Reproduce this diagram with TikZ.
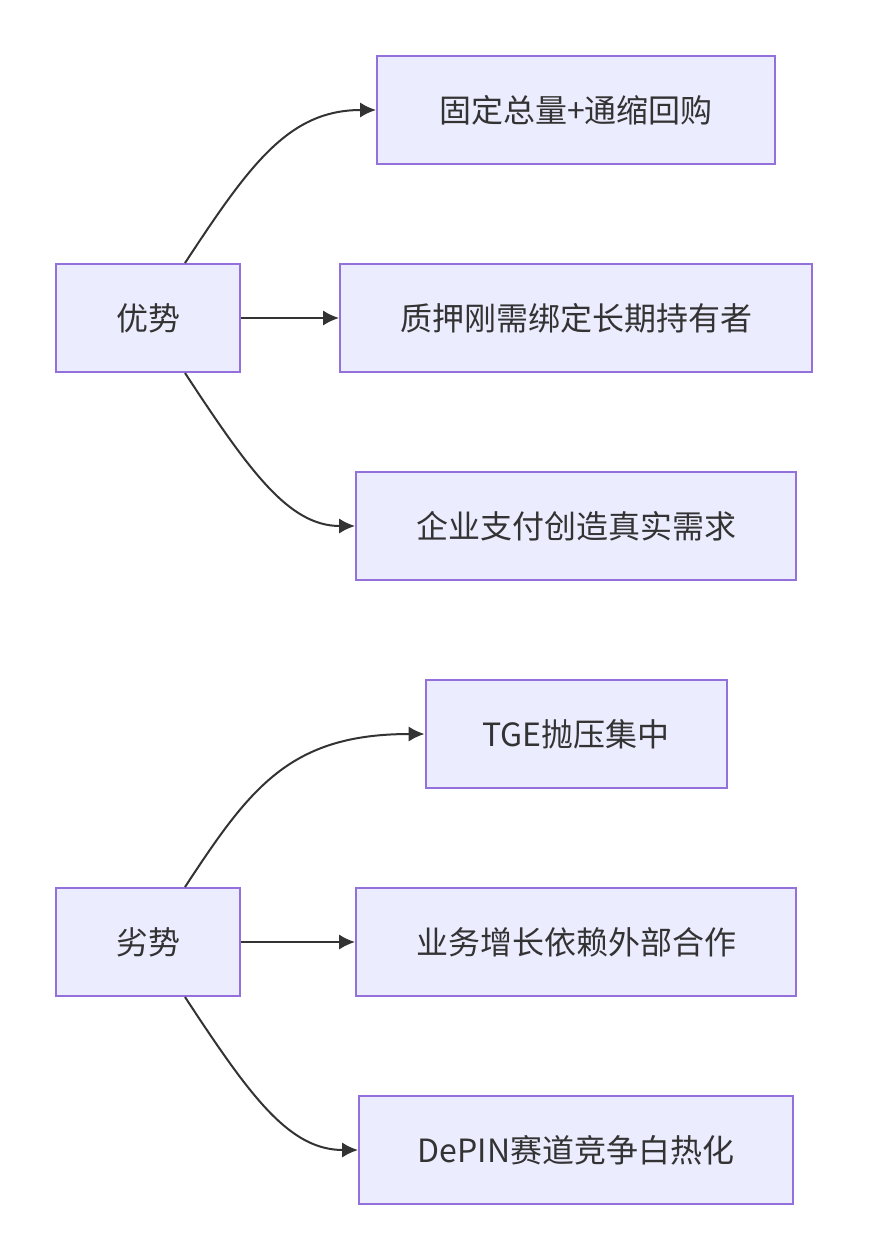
\documentclass[tikz,border=0pt]{standalone}
\usepackage{fontspec}
\setmainfont{Noto Sans CJK SC}
\usetikzlibrary{arrows.meta,calc}
\definecolor{boxfill}{HTML}{ECECFF}
\definecolor{boxline}{HTML}{9370DB}
\definecolor{ink}{HTML}{333333}
\tikzset{
  box/.style={draw=boxline, fill=boxfill, line width=1.5pt, text=ink,
    minimum height=81pt, inner xsep=40pt,
    font=\fontsize{24}{29}\selectfont},
  link/.style={draw=ink, line width=1.5pt,
    -{Latex[length=12pt,width=11.5pt]}}
}
\begin{document}
\begin{tikzpicture}[x=0.75pt,y=-0.75pt]
\useasboundingbox (0,0) rectangle (868,1260);
\node[box, minimum width=138pt] (ys) at (148,318) {优势};
\node[box, minimum width=298.5pt] (ys1) at (576,110) {固定总量+通缩回购};
\node[box, minimum width=354pt] (ys2) at (576,318) {质押刚需绑定长期持有者};
\node[box, minimum width=330pt] (ys3) at (576,526) {企业支付创造真实需求};
\node[box, minimum width=138pt] (ls) at (148,942) {劣势};
\node[box, minimum width=225.75pt] (ls1) at (576,734) {TGE抛压集中};
\node[box, minimum width=330pt] (ls2) at (576,942) {业务增长依赖外部合作};
\node[box, minimum width=325.5pt] (ls3) at (576,1150) {DePIN赛道竞争白热化};
\draw[link] ($(ys.north)+(37,0)$) .. controls +(65,-99) and +(-87,0) .. (ys1.west);
\draw[link] (ys.east) -- (ys2.west);
\draw[link] ($(ys.south)+(37,0)$) .. controls +(65,99) and +(-66,0) .. (ys3.west);
\draw[link] ($(ls.north)+(37,0)$) .. controls +(65,-99) and +(-135,0) .. (ls1.west);
\draw[link] (ls.east) -- (ls2.west);
\draw[link] ($(ls.south)+(37,0)$) .. controls +(65,99) and +(-69,0) .. (ls3.west);
\end{tikzpicture}
\end{document}
